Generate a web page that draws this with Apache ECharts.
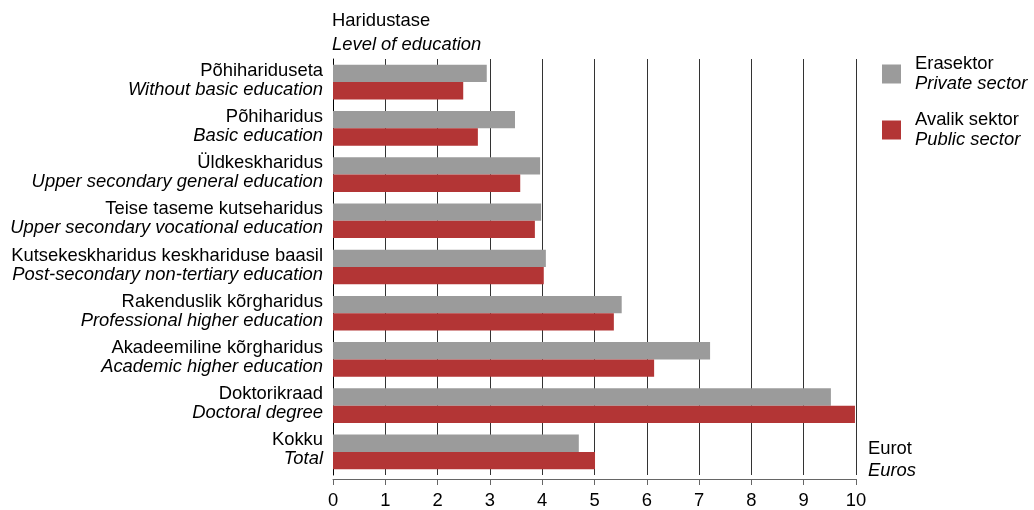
<!DOCTYPE html>
<html>
<head>
<meta charset="utf-8">
<script src="https://cdn.jsdelivr.net/npm/echarts@6/dist/echarts.min.js"></script>
<style>
  html,body{margin:0;padding:0;background:#fff}
  #main{width:1034px;height:510px}
</style>
</head>
<body>
<div id="main"></div>
<script>
// kategooriad (eesti / inglise)
const catsEt=['Põhihariduseta','Põhiharidus','Üldkeskharidus','Teise taseme kutseharidus','Kutsekeskharidus keskhariduse baasil','Rakenduslik kõrgharidus','Akadeemiline kõrgharidus','Doktorikraad','Kokku']
const catsEn=['Without basic education','Basic education','Upper secondary general education','Upper secondary vocational education','Post-secondary non-tertiary education','Professional higher education','Academic higher education','Doctoral degree','Total']
const privateSector=[2.94,3.48,3.96,3.98,4.07,5.52,7.21,9.52,4.70]
const publicSector=[2.49,2.77,3.58,3.86,4.03,5.37,6.14,9.98,5.01]
const xTicks=[0,1,2,3,4,5,6,7,8,9,10]

const font='Liberation Sans, Arial, sans-serif'
const fs=18.4
const myChart=echarts.init(document.querySelector('#main'))

const option={
  animation:false,
  textStyle:{fontFamily:font},
  title:[
    {
      text:'{a|Haridustase}\n{b|Level of education}',
      left:332,top:9,padding:0,
      textStyle:{fontWeight:'normal',rich:{
        a:{fontSize:fs,lineHeight:24,color:'#000',fontFamily:font},
        b:{fontSize:fs,lineHeight:24,color:'#000',fontStyle:'italic',fontFamily:font}
      }}
    },
    {
      text:'{a|Eurot}\n{b|Euros}',
      left:868,top:438,padding:0,
      textStyle:{fontWeight:'normal',rich:{
        a:{fontSize:fs,lineHeight:22,color:'#000',fontFamily:font},
        b:{fontSize:fs,lineHeight:22,color:'#000',fontStyle:'italic',fontFamily:font}
      }}
    }
  ],
  legend:{
    orient:'vertical',
    left:882,top:55,padding:0,
    itemWidth:19,itemHeight:19,itemGap:18,
    icon:'rect',
    data:['Erasektor','Avalik sektor'],
    formatter:function(name){
      return name==='Erasektor'?'{a|Erasektor}\n{b|Private sector}':'{a|Avalik sektor}\n{b|Public sector}'
    },
    textStyle:{
      padding:[0,0,0,9],
      rich:{
        a:{fontSize:fs,lineHeight:20,color:'#000',fontFamily:font},
        b:{fontSize:fs,lineHeight:20,color:'#000',fontStyle:'italic',fontFamily:font}
      }
    }
  },
  grid:{left:333,right:1034-856,top:59,bottom:30,containLabel:false},
  xAxis:{
    type:'value',
    min:xTicks[0],max:xTicks[xTicks.length-1],interval:1,
    offset:4,
    axisLine:{show:true,lineStyle:{color:'#666',width:1}},
    axisTick:{show:true,length:6,lineStyle:{color:'#666'}},
    axisLabel:{fontSize:fs,color:'#000',margin:13,fontFamily:font},
    splitLine:{show:true,lineStyle:{color:'#333',width:1}}
  },
  yAxis:{
    type:'category',
    inverse:true,
    data:catsEt.map((c,i)=>c+'|'+catsEn[i]),
    axisLine:{show:true,lineStyle:{color:'#000',width:1}},
    axisTick:{show:false},
    axisLabel:{
      margin:10,
      padding:[0,0,4,0],
      formatter:function(v){
        const p=v.split('|')
        return '{a|'+p[0]+'}\n{b|'+p[1]+'}'
      },
      rich:{
        a:{fontSize:fs,lineHeight:19,color:'#000',fontFamily:font,align:'right'},
        b:{fontSize:fs,lineHeight:19,color:'#000',fontStyle:'italic',fontFamily:font,align:'right'}
      }
    }
  },
  series:[
    {
      name:'Erasektor',type:'bar',
      data:privateSector,
      itemStyle:{color:'#9b9b9b'},
      barGap:'0%',barCategoryGap:'25%'
    },
    {
      name:'Avalik sektor',type:'bar',
      data:publicSector,
      itemStyle:{color:'#b33535'},
      barGap:'0%',barCategoryGap:'25%'
    }
  ]
}

myChart.setOption(option)
</script>
</body>
</html>
